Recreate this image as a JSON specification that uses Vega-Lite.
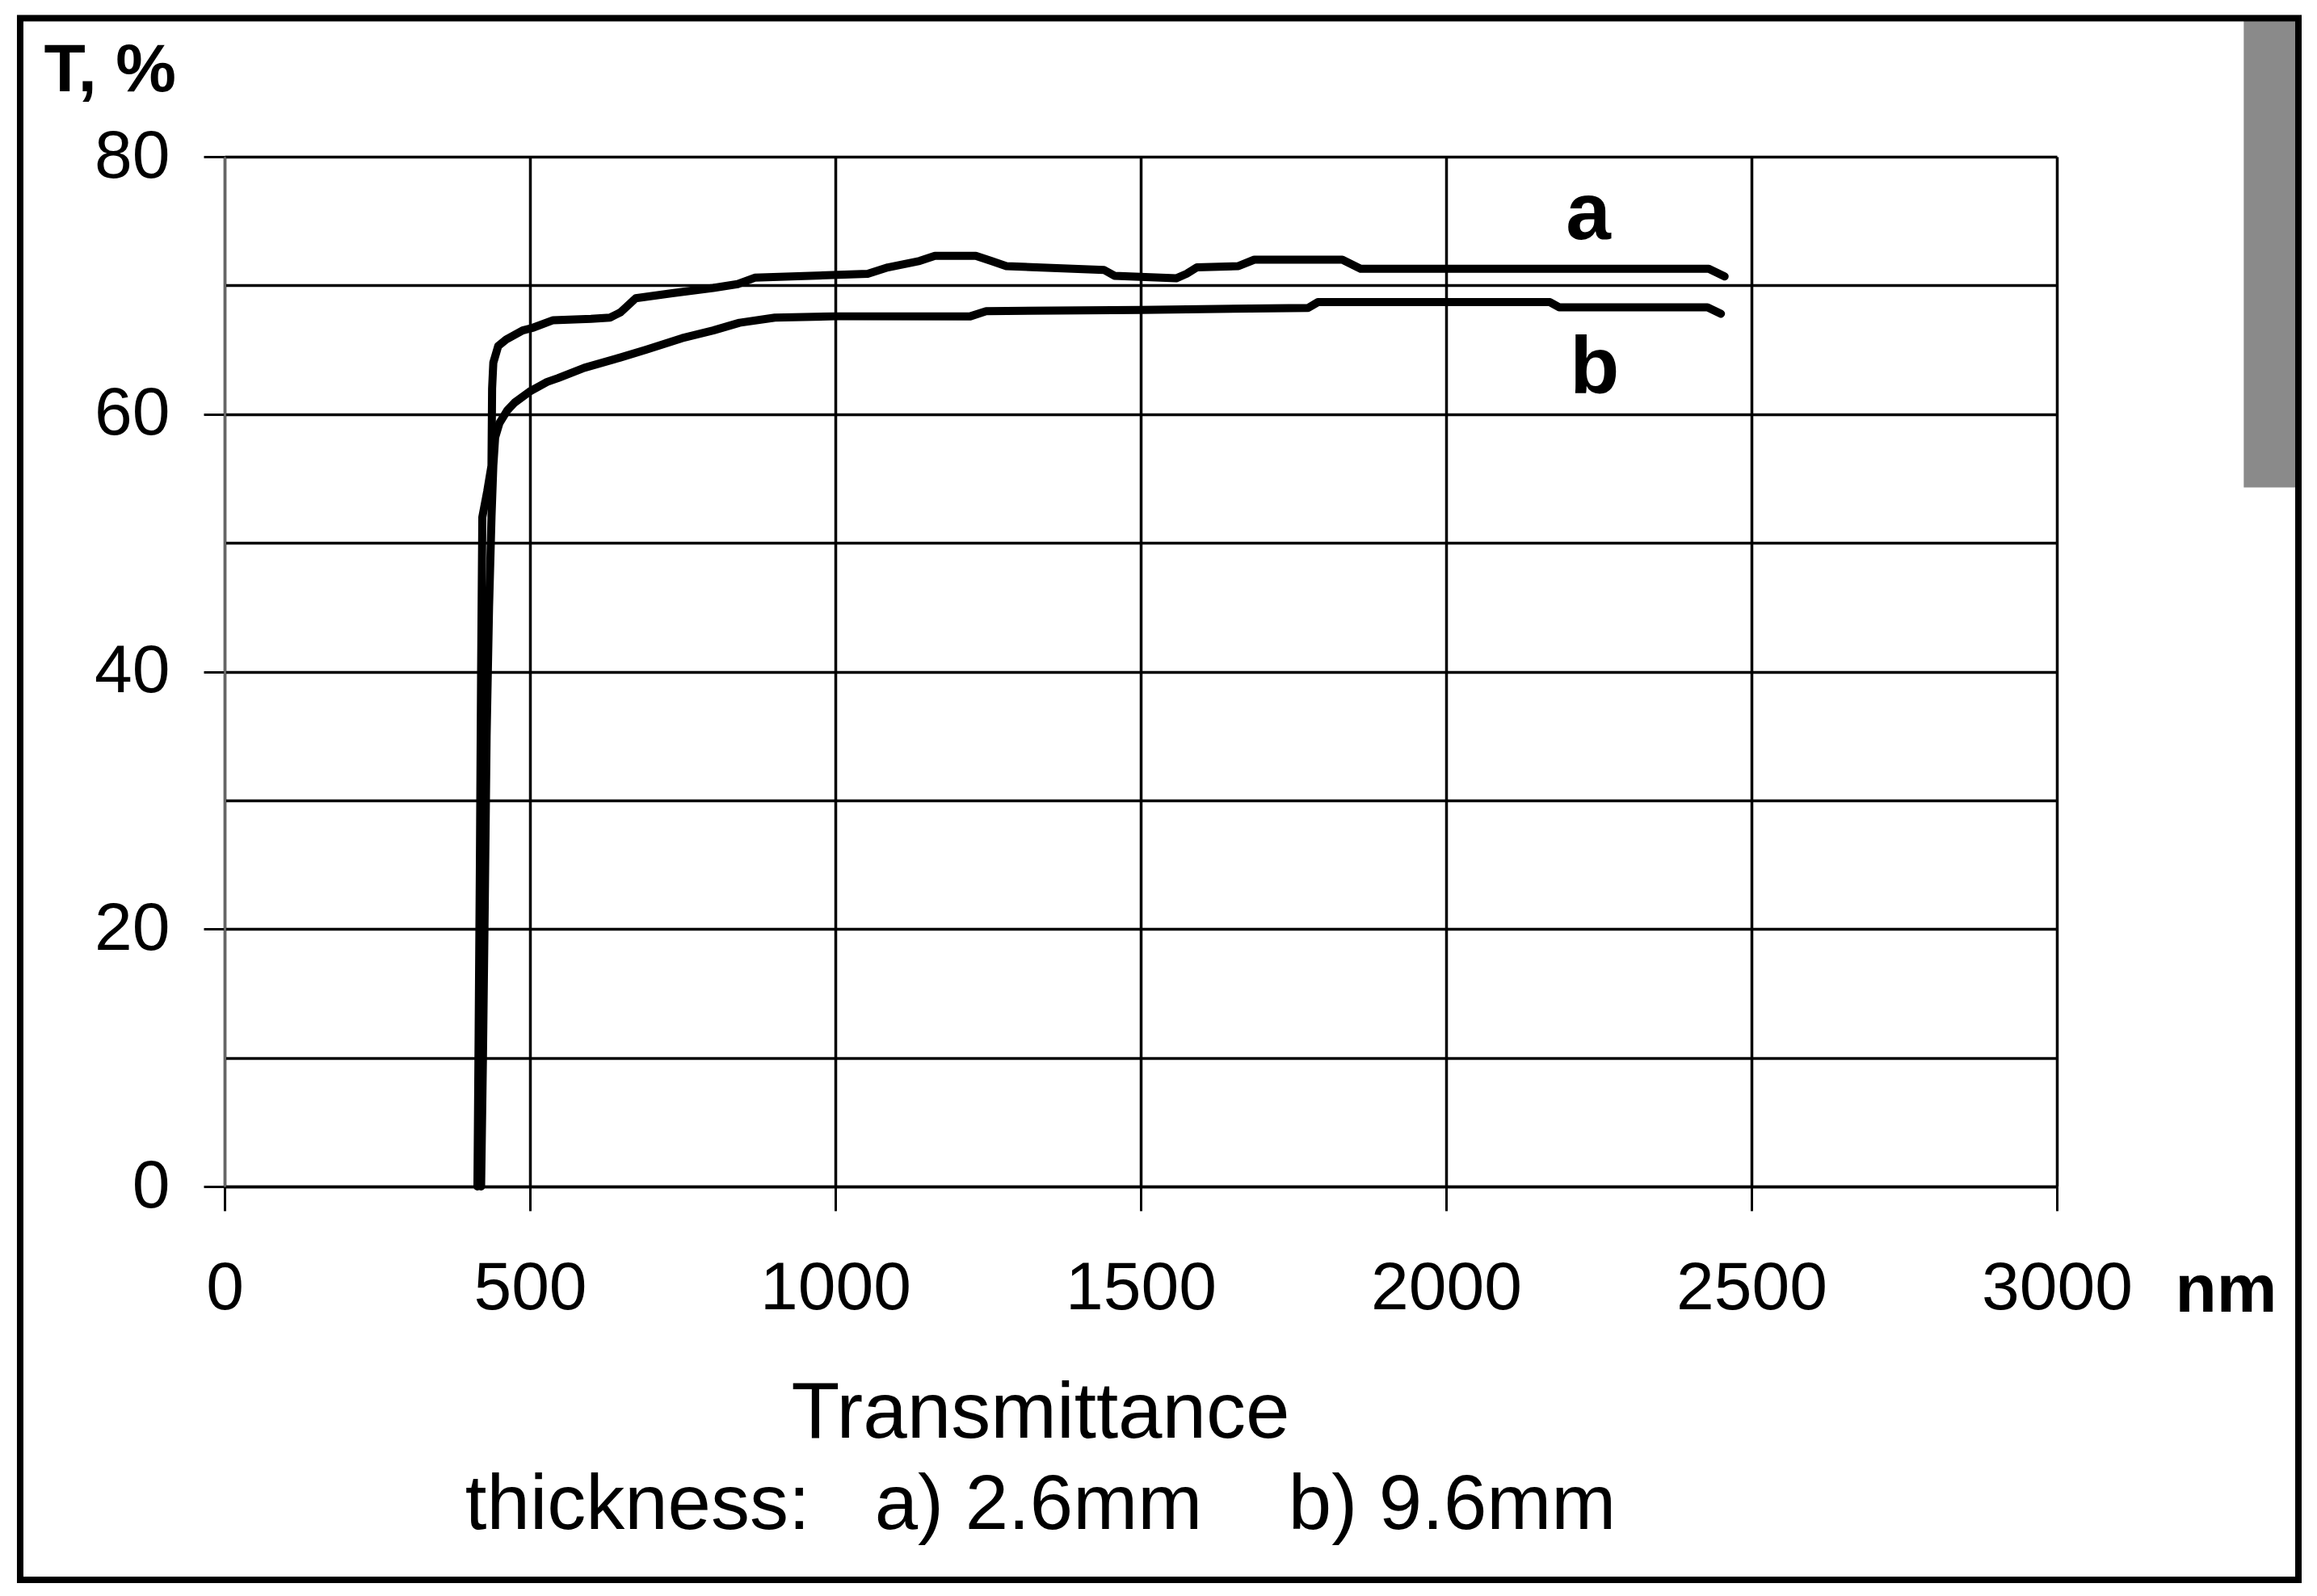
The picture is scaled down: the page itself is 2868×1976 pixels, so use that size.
{
  "$schema": "https://vega.github.io/schema/vega-lite/v6.json",
  "width": 2268,
  "height": 1275,
  "autosize": {"type": "none"},
  "padding": {"left": 278, "top": 194, "right": 322, "bottom": 507},
  "background": "white",
  "config": {
    "view": {"stroke": null},
    "font": "Liberation Sans"
  },
  "title": {
    "text": "Transmittance",
    "subtitle": "thickness:\u00a0\u00a0\u00a0a) 2.6mm\u00a0\u00a0\u00a0\u00a0b) 9.6mm",
    "orient": "bottom",
    "anchor": "middle",
    "frame": "group",
    "dx": -124,
    "offset": -257,
    "font": "Liberation Sans",
    "fontSize": 98,
    "fontWeight": "normal",
    "color": "black",
    "subtitleFont": "Liberation Sans",
    "subtitleFontSize": 96,
    "subtitleColor": "black",
    "subtitlePadding": 16
  },
  "datasets": {
    "curves": [
      {"wl": 414, "T": 0, "s": "a"},
      {"wl": 416, "T": 12, "s": "a"},
      {"wl": 418, "T": 25, "s": "a"},
      {"wl": 420, "T": 40, "s": "a"},
      {"wl": 422, "T": 52, "s": "a"},
      {"wl": 430, "T": 54, "s": "a"},
      {"wl": 437, "T": 56, "s": "a"},
      {"wl": 438, "T": 62, "s": "a"},
      {"wl": 440, "T": 64, "s": "a"},
      {"wl": 448, "T": 65.3, "s": "a"},
      {"wl": 461, "T": 65.8, "s": "a"},
      {"wl": 488, "T": 66.5, "s": "a"},
      {"wl": 504, "T": 66.7, "s": "a"},
      {"wl": 538, "T": 67.3, "s": "a"},
      {"wl": 600, "T": 67.4, "s": "a"},
      {"wl": 631, "T": 67.5, "s": "a"},
      {"wl": 648, "T": 67.9, "s": "a"},
      {"wl": 673, "T": 69.0, "s": "a"},
      {"wl": 733, "T": 69.4, "s": "a"},
      {"wl": 800, "T": 69.8, "s": "a"},
      {"wl": 840, "T": 70.1, "s": "a"},
      {"wl": 868, "T": 70.6, "s": "a"},
      {"wl": 1053, "T": 70.9, "s": "a"},
      {"wl": 1086, "T": 71.4, "s": "a"},
      {"wl": 1138, "T": 71.9, "s": "a"},
      {"wl": 1163, "T": 72.3, "s": "a"},
      {"wl": 1230, "T": 72.3, "s": "a"},
      {"wl": 1255, "T": 71.9, "s": "a"},
      {"wl": 1280, "T": 71.5, "s": "a"},
      {"wl": 1440, "T": 71.2, "s": "a"},
      {"wl": 1457, "T": 70.75, "s": "a"},
      {"wl": 1558, "T": 70.55, "s": "a"},
      {"wl": 1575, "T": 70.9, "s": "a"},
      {"wl": 1592, "T": 71.4, "s": "a"},
      {"wl": 1660, "T": 71.5, "s": "a"},
      {"wl": 1686, "T": 72.0, "s": "a"},
      {"wl": 1830, "T": 72.0, "s": "a"},
      {"wl": 1860, "T": 71.3, "s": "a"},
      {"wl": 2200, "T": 71.3, "s": "a"},
      {"wl": 2430, "T": 71.3, "s": "a"},
      {"wl": 2456, "T": 70.7, "s": "a"},
      {"wl": 420, "T": 0, "s": "b"},
      {"wl": 423, "T": 10, "s": "b"},
      {"wl": 426, "T": 22, "s": "b"},
      {"wl": 429, "T": 35, "s": "b"},
      {"wl": 433, "T": 45, "s": "b"},
      {"wl": 437, "T": 52, "s": "b"},
      {"wl": 440, "T": 56, "s": "b"},
      {"wl": 443, "T": 58.2, "s": "b"},
      {"wl": 450, "T": 59.3, "s": "b"},
      {"wl": 463, "T": 60.3, "s": "b"},
      {"wl": 475, "T": 60.9, "s": "b"},
      {"wl": 501, "T": 61.8, "s": "b"},
      {"wl": 528, "T": 62.5, "s": "b"},
      {"wl": 546, "T": 62.8, "s": "b"},
      {"wl": 589, "T": 63.6, "s": "b"},
      {"wl": 648, "T": 64.4, "s": "b"},
      {"wl": 690, "T": 65.0, "s": "b"},
      {"wl": 749, "T": 65.9, "s": "b"},
      {"wl": 800, "T": 66.5, "s": "b"},
      {"wl": 843, "T": 67.1, "s": "b"},
      {"wl": 901, "T": 67.5, "s": "b"},
      {"wl": 1000, "T": 67.6, "s": "b"},
      {"wl": 1221, "T": 67.6, "s": "b"},
      {"wl": 1247, "T": 68.0, "s": "b"},
      {"wl": 1500, "T": 68.1, "s": "b"},
      {"wl": 1774, "T": 68.25, "s": "b"},
      {"wl": 1790, "T": 68.7, "s": "b"},
      {"wl": 2170, "T": 68.7, "s": "b"},
      {"wl": 2185, "T": 68.3, "s": "b"},
      {"wl": 2428, "T": 68.3, "s": "b"},
      {"wl": 2450, "T": 67.8, "s": "b"}
    ],
    "labels": [
      {"wl": 2233, "T": 73.6, "s": "a"},
      {"wl": 2243, "T": 61.6, "s": "b"}
    ]
  },
  "layer": [
    {
      "data": {"values": [{}]},
      "mark": {"type": "rect", "fill": "#8a8a8a", "clip": false},
      "encoding": {
        "x": {"datum": 3306, "type": "quantitative", "scale": {"domain": [0, 3000], "nice": false, "zero": false}},
        "x2": {"datum": 3392},
        "y": {"datum": 90.6, "type": "quantitative", "scale": {"domain": [0, 80], "nice": false, "zero": false}},
        "y2": {"datum": 54.3}
      }
    },
    {
      "data": {"values": [{}]},
      "mark": {"type": "rect", "fill": "transparent", "stroke": "black", "strokeWidth": 8, "clip": false},
      "encoding": {
        "x": {"datum": -334.7, "type": "quantitative"},
        "x2": {"datum": 3395.5},
        "y": {"datum": 90.76, "type": "quantitative"},
        "y2": {"datum": -30.56}
      }
    },
    {
      "data": {"name": "curves"},
      "mark": {"type": "line", "color": "black", "strokeWidth": 10, "strokeJoin": "round", "strokeCap": "round"},
      "encoding": {
        "x": {
          "field": "wl",
          "type": "quantitative",
          "scale": {"domain": [0, 3000], "nice": false, "zero": false},
          "axis": {
            "values": [0, 500, 1000, 1500, 2000, 2500, 3000],
            "format": "d",
            "title": "nm",
            "titleFont": "Liberation Sans",
            "titleFontSize": 84,
            "titleFontWeight": "bold",
            "titleColor": "black",
            "titleX": 2414,
            "titleY": 154,
            "titleAlign": "left",
            "titleBaseline": "alphabetic",
            "titleAnchor": null,
            "labelFont": "Liberation Sans",
            "labelFontSize": 84,
            "labelColor": "black",
            "labelPadding": 55,
            "labelLimit": 1000,
            "labelFlush": false,
            "labelOverlap": false,
            "tickSize": 30,
            "tickWidth": 3,
            "tickColor": "black",
            "grid": true,
            "gridColor": "black",
            "gridWidth": 3.5,
            "gridOpacity": 1,
            "domain": true,
            "domainColor": "black",
            "domainWidth": 3.5
          }
        },
        "y": {
          "field": "T",
          "type": "quantitative",
          "scale": {"domain": [0, 80], "nice": false, "zero": false},
          "axis": {
            "values": [0, 10, 20, 30, 40, 50, 60, 70, 80],
            "labelExpr": "datum.value % 20 === 0 ? datum.label : ''",
            "title": "T, %",
            "titleFont": "Liberation Sans",
            "titleFontSize": 84,
            "titleFontWeight": "bold",
            "titleColor": "black",
            "titleAngle": 0,
            "titleX": -224,
            "titleY": -82,
            "titleAlign": "left",
            "titleBaseline": "alphabetic",
            "titleAnchor": null,
            "labelFont": "Liberation Sans",
            "labelFontSize": 84,
            "labelColor": "black",
            "labelPadding": 42,
            "labelFlush": false,
            "labelOverlap": false,
            "tickSize": 26,
            "tickWidth": 3,
            "tickColor": "black",
            "tickOpacity": {"condition": {"test": "datum.value % 20 === 0", "value": 1}, "value": 0},
            "grid": true,
            "gridColor": "black",
            "gridWidth": 3.5,
            "gridOpacity": 1,
            "domain": true,
            "domainColor": "#666666",
            "domainWidth": 3
          }
        },
        "detail": {"field": "s"}
      }
    },
    {
      "data": {"name": "labels"},
      "mark": {"type": "text", "font": "Liberation Sans", "fontSize": 100, "fontWeight": "bold", "color": "black", "align": "center", "baseline": "alphabetic"},
      "encoding": {
        "x": {"field": "wl", "type": "quantitative"},
        "y": {"field": "T", "type": "quantitative"},
        "text": {"field": "s"}
      }
    }
  ]
}
